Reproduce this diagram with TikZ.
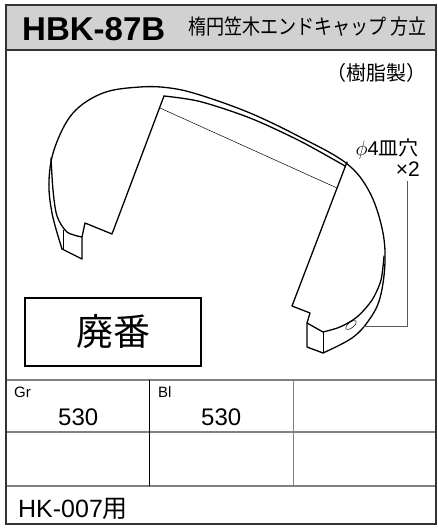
\documentclass[tikz,border=0pt]{standalone}
\usepackage{fontspec}
\setmainfont{Liberation Sans}
\newfontfamily\jpfont{Noto Sans CJK JP}
\usetikzlibrary{positioning}
\tikzset{
	frameline/.style={draw=black!80, line width=1.6},
	gridline/.style={draw=black!50, line width=1.4},
	partline/.style={line width=1.3, line join=round, line cap=round},
	thinline/.style={line width=0.5},
	leader/.style={draw=black!65, line width=0.7},
	txt/.style={inner sep=0pt, anchor=base west},
}

\begin{document}
\begin{tikzpicture}[x=1pt,y=-1pt]
	\useasboundingbox (0,0) rectangle (438,528);
	\fill[black!18] (6,5) rectangle (436,50);
	\node[txt] (code) at (22,40){\fontsize{33}{33}\selectfont\bfseries HBK-87B};
	\node[txt] (title) at (188,34){\fontsize{21}{21}\selectfont\jpfont\scalebox{0.86}[1]{楕円笠木エンドキャップ\ 方立}};
	\node[txt, anchor=base east] (material) at (427,80){\fontsize{20}{20}\selectfont\jpfont （樹脂製）};
	\node[txt, anchor=base east] (hole) at (419,155){\fontsize{20}{20}\selectfont$\phi$4{\jpfont 皿穴}};
	\node[txt, anchor=base east] (times) at (420,176){\fontsize{21}{21}\selectfont ×2};
	\node[draw, line width=1.2, minimum width=176, minimum height=68, inner sep=0pt] (haiban) at (113,332){\fontsize{37}{37}\selectfont\jpfont 廃番};
	% part
	\draw[partline] plot[smooth, tension=0.6] coordinates {(62,249) (52,213) (49,180) (55,147) (73,113) (103,93) (140,87) (170,88) (200,95) (250,113) (300,137) (346,163) (369,191) (382,228) (385,262) (380,298) (369,320) (352,338) (323,353)};
	\draw[partline] plot[smooth] coordinates {(51,158) (53,190) (57,216) (67,232) (82,237)};
	\draw[partline] (62,249) -- (82,259) -- (82,237) -- (85,223) -- (112,234) -- (164,96);
	\draw[thinline] (63,230) -- (63,250);
	\draw[partline] plot[smooth] coordinates {(164,96) (200,101.5) (250,118) (300,141) (345,166)};
	\draw[partline] (347,162) -- (292,306) -- (310,313) -- (307,323) -- (307,347) -- (323,353);
	\draw[partline] (307,323) -- (323,332);
	\draw[thinline] (323,332) -- (323,353);
	\draw[partline] plot[smooth] coordinates {(323,332) (340,327) (357,317) (372,300) (381,280) (384,256)};
	\draw[thinline] (160,108) -- (337,188);
	\coordinate (hollow) at (351,325);
	\draw[thinline, rotate around={38:(hollow)}] (hollow) ellipse (6.5 and 2.8);
	\coordinate (leadend) at (363,326);
	\draw[leader] ([yshift=-5pt]times.south) |- (leadend);
	% table
	\draw[gridline] (6,380) -- (436,380);
	\draw[gridline] (6,432) -- (436,432);
	\draw[gridline] (6,486) -- (436,486);
	\draw[line width=0.7] (149,380) -- (149,486);
	\draw[gridline, line width=0.9] (293,380) -- (293,486);
	\node[txt] (gr) at (14,397){\fontsize{15}{15}\selectfont Gr};
	\node[txt] (grval) at (58,425){\fontsize{24}{24}\selectfont 530};
	\node[txt] (bl) at (158,397){\fontsize{15}{15}\selectfont Bl};
	\node[txt] (blval) at (201,425){\fontsize{24}{24}\selectfont 530};
	\node[txt] (usage) at (18,517){\fontsize{25}{25}\selectfont HK-007{\jpfont 用}};
	% frame
	\draw[frameline] (6,50) -- (436,50);
	\draw[frameline] (6,5) rectangle (436,524);
\end{tikzpicture}
\end{document}
